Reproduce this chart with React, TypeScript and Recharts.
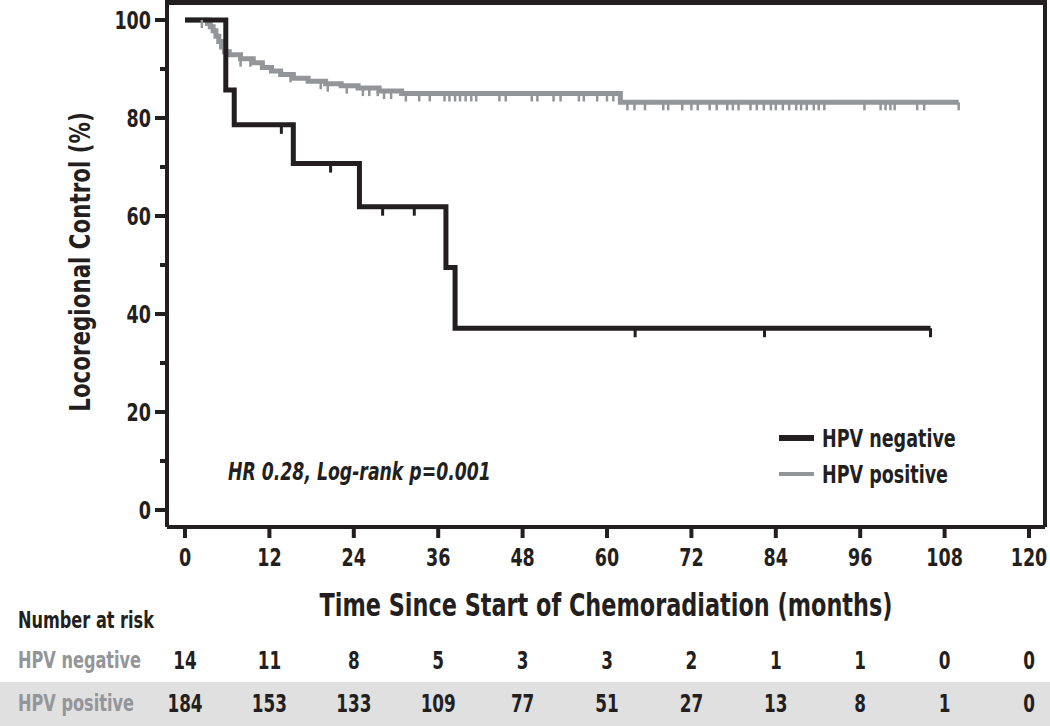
import React from 'react';
import { ComposedChart, Line, Scatter, XAxis, YAxis, Legend } from 'recharts';

const FONT = "'DejaVu Sans Condensed', 'Liberation Sans Narrow', sans-serif";
const INK = '#231f20';
const GREY = '#939598';
const SQUEEZE = 0.78;
const CHART_W = 1050;
const RIGHT_EDGE = 1045;

// x axis ticks (months) and risk table
const months = [0, 12, 24, 36, 48, 60, 72, 84, 96, 108, 120];
const negAtRisk = [14, 11, 8, 5, 3, 3, 2, 1, 1, 0, 0];
const posAtRisk = [184, 153, 133, 109, 77, 51, 27, 13, 8, 1, 0];
const yTicks = [0, 10, 20, 30, 40, 50, 60, 70, 80, 90, 100];

// Kaplan-Meier steps, HPV negative
const negTimes = [0, 5.8, 7.0, 15.4, 24.8, 37.1, 38.4, 106];
const negSurv = [100, 85.7, 78.6, 70.7, 61.9, 49.5, 37.1, 37.1];
const negCensor = [13.7, 20.7, 28.1, 32.6, 64.0, 82.4, 106];

// Kaplan-Meier steps, HPV positive
const posTimes = [0, 3.2, 3.6, 4.0, 4.4, 4.8, 5.2, 5.6, 6.3, 7.9, 9.7, 11.0, 12.3, 13.6, 15.4, 17.5, 20.0, 22.2, 24.6, 27.6, 30.8, 61.9, 110];
const posSurv = [100, 99.3, 98.6, 97.8, 96.7, 95.6, 94.5, 93.5, 92.9, 92.1, 91.3, 90.3, 89.6, 88.9, 88.1, 87.5, 87.0, 86.6, 86.1, 85.5, 85.0, 83.2, 83.2];
const posCensor = [
  2.4, 7.9, 9.3, 15.0, 19.3, 20.3, 23.0, 25.3, 26.2, 27.4, 28.3, 29.3,
  31.4, 33.3, 34.8, 36.9, 37.6, 38.4, 39.1, 39.9, 40.7, 41.4, 44.7, 45.6, 49.3, 50.1,
  52.4, 53.4, 56.0, 56.7, 58.6, 60.0, 60.9, 62.9, 63.9, 65.4, 68.0, 68.7, 70.7, 72.0,
  72.9, 74.6, 75.6, 77.1, 77.9, 78.7, 80.4, 81.3, 82.3, 83.3, 84.0, 85.0, 85.9, 86.9,
  87.6, 88.4, 89.4, 90.1, 90.9, 96.6, 98.9, 99.6, 100.3, 100.9, 104.1, 105.1, 110,
];

const levelAt = (times: number[], surv: number[], t: number) => {
  let s = surv[0];
  times.forEach((x, i) => {
    if (x <= t) s = surv[i];
  });
  return s;
};

const negCurve = negTimes.map((t, i) => ({ t, s: negSurv[i] }));
const posCurve = posTimes.map((t, i) => ({ t, s: posSurv[i] }));
const negMarks = negCensor.map((t) => ({ t, s: levelAt(negTimes, negSurv, t) }));
const posMarks = posCensor.map((t) => ({ t, s: levelAt(posTimes, posSurv, t) }));

const xPad = { left: 18, right: 16 };
const yPad = { top: 16, bottom: 17 };

// condensed bold text (the original uses a condensed face)
const NText = (p: any) => (
  <text
    transform={`translate(${p.x},${p.y}) scale(${SQUEEZE},1)`}
    textAnchor={p.anchor || 'middle'}
    fontSize={p.size || 25}
    fontWeight={700}
    fill={p.color || INK}
    fontFamily={FONT}
  >
    {p.children}
  </text>
);

const censorShape = (color: string, len: number, w: number) => (props: any) => (
  <line x1={props.cx} x2={props.cx} y1={props.cy} y2={props.cy + len} stroke={color} strokeWidth={w} />
);

const YTick = (props: any) => {
  const { x, y, payload } = props;
  const major = payload.value % 20 === 0;
  return (
    <g>
      <line x1={x + (major ? 4 : 9)} x2={x + 16} y1={y} y2={y} stroke={INK} strokeWidth={4} />
      {major && (
        <NText x={x} y={y + 9} anchor="end">
          {payload.value}
        </NText>
      )}
    </g>
  );
};

// month label plus the two number-at-risk rows under each tick
const XTick = (props: any) => {
  const { x, y, payload } = props;
  const i = months.indexOf(payload.value);
  return (
    <g>
      <NText x={x} y={y + 28}>{payload.value}</NText>
      <NText x={x} y={y + 131} size={24}>{negAtRisk[i]}</NText>
      <NText x={x} y={y + 174} size={24}>{posAtRisk[i]}</NText>
    </g>
  );
};

const XTitle = (p: any) => {
  const vb = p.viewBox || { x: 167, y: 527, width: 878, height: 92 };
  return (
    <text
      x={vb.x + vb.width / 2}
      y={vb.y + vb.height - 3}
      textAnchor="middle"
      textLength={573}
      lengthAdjust="spacingAndGlyphs"
      fontSize={32}
      fontWeight={700}
      fill={INK}
      fontFamily={FONT}
    >
      Time Since Start of Chemoradiation (months)
    </text>
  );
};

// top edge of the plot box, drawn from the y axis box
const TopEdge = (p: any) => {
  const vb = p.viewBox || { x: 107, y: 4, width: 60, height: 523 };
  return (
    <line
      x1={vb.x + vb.width - 2}
      x2={RIGHT_EDGE + 2}
      y1={vb.y - 2}
      y2={vb.y - 2}
      stroke={INK}
      strokeWidth={4}
    />
  );
};

const renderLegend = (props: any) => {
  const items = (props.payload || []).filter((e: any) => e.type !== 'none');
  return (
    <div style={{ fontFamily: FONT, fontWeight: 700, fontSize: 25, color: INK }}>
      {items.map((e: any) => (
        <div key={e.value} style={{ display: 'flex', alignItems: 'center', height: 36, whiteSpace: 'nowrap' }}>
          <span
            style={{
              display: 'inline-block',
              width: 35,
              height: e.value === 'HPV negative' ? 6 : 4,
              background: e.color,
              marginRight: 8,
            }}
          />
          <span style={{ display: 'inline-block', transform: `scaleX(${SQUEEZE})`, transformOrigin: 'left center' }}>
            {e.value}
          </span>
        </div>
      ))}
    </div>
  );
};

const sideLabel = (top: number, color: string, size: number): React.CSSProperties => ({
  position: 'absolute',
  left: 18,
  top,
  fontSize: size,
  fontWeight: 700,
  color,
  lineHeight: 1,
  whiteSpace: 'nowrap',
  transform: `scaleX(${SQUEEZE})`,
  transformOrigin: 'left center',
});

export default function App() {
  return (
    <div style={{ position: 'absolute', left: 0, top: 0, width: CHART_W, height: 726, background: '#fff', fontFamily: FONT }}>
      {/* band behind the HPV positive row */}
      <div style={{ position: 'absolute', left: 0, top: 682, width: CHART_W, height: 44, background: '#e0e0e1' }} />
      <div style={sideLabel(609, INK, 23)}>Number at risk</div>
      <div style={sideLabel(649, GREY, 23)}>HPV negative</div>
      <div style={sideLabel(692, GREY, 23)}>HPV positive</div>
      <div
        style={{
          position: 'absolute',
          left: 80,
          top: 262,
          transform: `translate(-50%, -50%) rotate(-90deg) scaleX(${SQUEEZE + 0.04})`,
          whiteSpace: 'nowrap',
          fontSize: 29,
          fontWeight: 700,
          color: INK,
          lineHeight: 1,
        }}
      >
        Locoregional Control (%)
      </div>
      <div
        style={{
          position: 'absolute',
          left: 228,
          top: 460,
          fontSize: 24,
          fontWeight: 700,
          fontStyle: 'italic',
          color: INK,
          lineHeight: 1,
          whiteSpace: 'nowrap',
          transform: `scaleX(${SQUEEZE + 0.02})`,
          transformOrigin: 'left center',
        }}
      >
        HR 0.28, Log-rank p=0.001
      </div>

      <div style={{ position: 'absolute', left: 0, top: 0 }}>
        <ComposedChart width={CHART_W} height={726} margin={{ top: 4, right: 3, bottom: 107, left: 107 }}>
          <XAxis
            xAxisId="t"
            dataKey="t"
            type="number"
            domain={[0, 120]}
            ticks={months}
            interval={0}
            padding={xPad}
            height={92}
            axisLine={{ stroke: INK, strokeWidth: 4 }}
            tickLine={{ stroke: INK, strokeWidth: 4 }}
            tickSize={11}
            tickMargin={0}
            tick={<XTick />}
            label={{ content: XTitle }}
          />
          <YAxis
            yAxisId="s"
            dataKey="s"
            type="number"
            domain={[0, 100]}
            ticks={yTicks}
            interval={0}
            padding={yPad}
            width={60}
            axisLine={{ stroke: INK, strokeWidth: 4 }}
            tickLine={false}
            tickSize={12}
            tickMargin={4}
            tick={<YTick />}
            label={{ content: TopEdge }}
          />
          {/* right edge of the plot box */}
          <YAxis
            yAxisId="r"
            orientation="right"
            type="number"
            domain={[0, 100]}
            padding={yPad}
            width={2}
            tick={false}
            tickLine={false}
            axisLine={{ stroke: INK, strokeWidth: 4 }}
          />
          <Legend
            layout="horizontal"
            verticalAlign="middle"
            align="center"
            content={renderLegend}
            wrapperStyle={{ left: 779, top: 420, width: 'auto' }}
          />
          <Line
            xAxisId="t"
            yAxisId="r"
            data={posCurve}
            dataKey="s"
            legendType="none"
            stroke="none"
            strokeOpacity={0}
            dot={false}
            activeDot={false}
            isAnimationActive={false}
          />
          <Line
            xAxisId="t"
            yAxisId="s"
            data={posCurve}
            dataKey="s"
            name="HPV positive"
            type="stepAfter"
            stroke={GREY}
            strokeWidth={5}
            dot={false}
            isAnimationActive={false}
          />
          <Scatter
            xAxisId="t"
            yAxisId="s"
            data={posMarks}
            dataKey="s"
            legendType="none"
            shape={censorShape(GREY, 8, 2.5)}
            isAnimationActive={false}
          />
          <Line
            xAxisId="t"
            yAxisId="s"
            data={negCurve}
            dataKey="s"
            name="HPV negative"
            type="stepAfter"
            stroke={INK}
            strokeWidth={5}
            dot={false}
            isAnimationActive={false}
          />
          <Scatter
            xAxisId="t"
            yAxisId="s"
            data={negMarks}
            dataKey="s"
            legendType="none"
            shape={censorShape(INK, 9, 3)}
            isAnimationActive={false}
          />
        </ComposedChart>
      </div>
      {/* top edge of the plot box (backup in HTML) */}
      <div style={{ position: 'absolute', left: 165, top: 0, width: 882, height: 5, background: INK, zIndex: 10 }} />
    </div>
  );
}
